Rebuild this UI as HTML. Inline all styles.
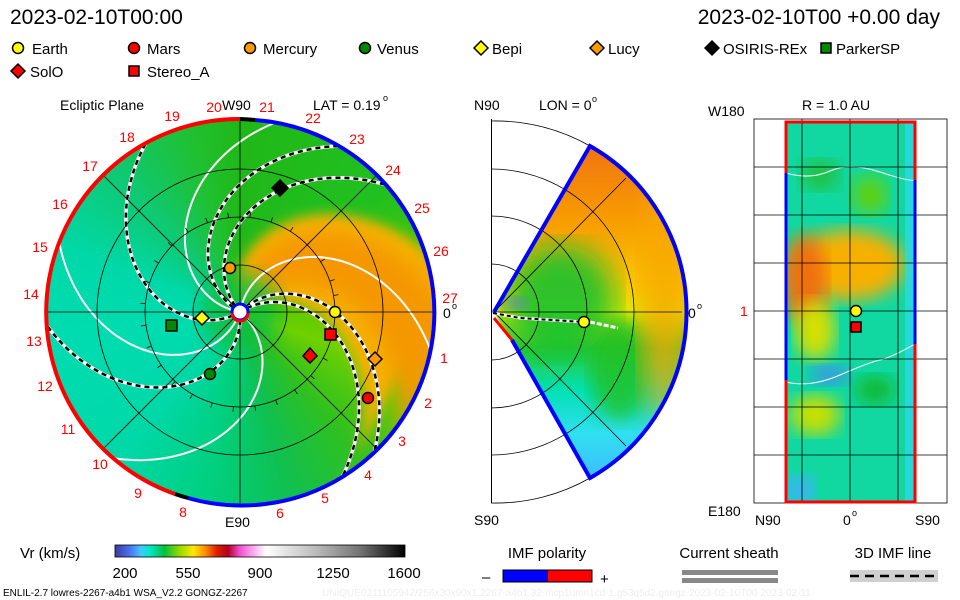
<!DOCTYPE html>
<html><head><meta charset="utf-8"><style>
body{margin:0;background:#fff}
svg{display:block}
text{font-family:"Liberation Sans",sans-serif}
</style></head><body>
<svg id="s" width="960" height="600" viewBox="0 0 960 600" xmlns="http://www.w3.org/2000/svg">
<defs>
<clipPath id="cL"><circle cx="240" cy="312" r="193"/></clipPath>
<clipPath id="cM"><path d="M494,312 L590,146 A191,191 0 0 1 590,478 Z"/></clipPath>
<clipPath id="cR"><rect x="786" y="122" width="129" height="380"/></clipPath>
<filter id="bl"><feGaussianBlur stdDeviation="14"/></filter>
<filter id="bl2"><feGaussianBlur stdDeviation="9"/></filter>
<filter id="bl3"><feGaussianBlur stdDeviation="6"/></filter>
<linearGradient id="cb" x1="0" x2="1">
<stop offset="0" stop-color="#3a3aa0"/><stop offset=".05" stop-color="#4a70f0"/><stop offset=".09" stop-color="#40c8ff"/><stop offset=".12" stop-color="#00e8c8"/><stop offset=".17" stop-color="#00c040"/><stop offset=".22" stop-color="#90d800"/><stop offset=".27" stop-color="#ffe800"/><stop offset=".31" stop-color="#ff9000"/><stop offset=".35" stop-color="#e02000"/><stop offset=".39" stop-color="#b00020"/><stop offset=".43" stop-color="#f050d0"/><stop offset=".48" stop-color="#ffb0f0"/><stop offset=".52" stop-color="#ffffff"/><stop offset=".7" stop-color="#b8b8b8"/><stop offset=".85" stop-color="#707070"/><stop offset="1" stop-color="#000"/>
</linearGradient>
<linearGradient id="mg" x1="0" y1="0" x2="0" y2="1">
<stop offset="0" stop-color="#f07010"/><stop offset=".25" stop-color="#f8a000"/><stop offset=".42" stop-color="#f8c800"/><stop offset=".5" stop-color="#e0e800"/><stop offset=".6" stop-color="#30c830"/><stop offset=".72" stop-color="#00e0b0"/><stop offset=".85" stop-color="#30e0f0"/><stop offset="1" stop-color="#40b8ff"/>
</linearGradient>
</defs>

<text x="10" y="24" font-size="21">2023-02-10T00:00</text>
<text x="940" y="24" font-size="21" text-anchor="end">2023-02-10T00 +0.00 day</text>
<g font-size="15" stroke="#000" stroke-width="1.5">
<circle cx="18" cy="48" r="5.5" fill="#ff0"/>
<circle cx="134" cy="48" r="5.5" fill="#f00"/>
<circle cx="250" cy="48" r="5.5" fill="#f90"/>
<circle cx="365" cy="48" r="5.5" fill="#080"/>
<path d="M481,41 l7,7 -7,7 -7,-7z" fill="#ff0"/>
<path d="M597,41 l7,7 -7,7 -7,-7z" fill="#f90"/>
<path d="M712,41 l7,7 -7,7 -7,-7z" fill="#000"/>
<rect x="821" y="43" width="10" height="10" fill="#080"/>
<path d="M18,64 l7,7 -7,7 -7,-7z" fill="#f00"/>
<rect x="129" y="66" width="10" height="10" fill="#f00"/>
</g>
<g font-size="15">
<text x="32" y="54">Earth</text><text x="147" y="54">Mars</text><text x="263" y="54">Mercury</text><text x="377" y="54">Venus</text>
<text x="492" y="54">Bepi</text><text x="608" y="54">Lucy</text><text x="723" y="54">OSIRIS-REx</text><text x="836" y="54">ParkerSP</text>
<text x="30" y="77">SolO</text><text x="147" y="77">Stereo_A</text>
</g>

<text x="60" y="110" font-size="14">Ecliptic Plane</text>
<text x="222" y="110" font-size="14">W90</text>
<text x="313" y="110" font-size="14">LAT = 0.19</text><text x="383" y="101" font-size="9">o</text>
<text x="225" y="527" font-size="14">E90</text>
<text x="443" y="318" font-size="14">0</text><text x="452" y="309" font-size="9">o</text>
<g clip-path="url(#cL)">
<foreignObject x="46" y="118" width="388" height="388">
<div xmlns="http://www.w3.org/1999/xhtml" style="width:388px;height:388px;background:conic-gradient(from 0deg,#20b818 0deg,#20c020 50deg,#50c800 80deg,#70d000 110deg,#30c020 140deg,#10c050 165deg,#00d080 190deg,#00d8a8 220deg,#00dcb0 260deg,#00d8a8 290deg,#10c870 320deg,#20c030 345deg,#20b818 360deg)"></div>
</foreignObject>
<path id="orb" fill="#f5b000" filter="url(#bl3)"/>
<path id="orc" fill="#f59800" filter="url(#bl2)"/>
<circle cx="240" cy="312" r="40" fill="#10c040" opacity=".8" filter="url(#bl2)"/>
<g id="spir"></g>
</g>
<g fill="none" stroke="#000" stroke-width="0.8">
<circle cx="240" cy="312" r="47"/><circle cx="240" cy="312" r="95"/><circle cx="240" cy="312" r="143"/>
<line x1="46" y1="312" x2="434" y2="312"/><line x1="240" y1="118" x2="240" y2="506"/>
<line x1="103" y1="175" x2="377" y2="449"/><line x1="103" y1="449" x2="377" y2="175"/>
</g>
<g id="ticks" stroke="#000" stroke-width="0.8"></g>
<path d="M240,119 A193,193 0 0 0 175,494" fill="none" stroke="#f00" stroke-width="4"/>
<path d="M255,120 A193,193 0 1 1 188,498" fill="none" stroke="#00f" stroke-width="4"/>
<path d="M240,119 A193,193 0 0 1 255,120" fill="none" stroke="#000" stroke-width="4"/>
<path d="M175,494 A193,193 0 0 0 188,498" fill="none" stroke="#000" stroke-width="4"/>
<g fill="#f00" font-size="14" text-anchor="middle">
<text x="214" y="112">20</text><text x="267" y="112">21</text><text x="313" y="123">22</text><text x="357" y="144">23</text><text x="393" y="175">24</text><text x="422" y="213">25</text><text x="441" y="256">26</text><text x="450" y="303">27</text><text x="444" y="363">1</text><text x="428" y="408">2</text><text x="402" y="446">3</text><text x="368" y="480">4</text><text x="325" y="503">5</text><text x="280" y="518">6</text><text x="183" y="517">8</text><text x="138" y="498">9</text><text x="100" y="469">10</text><text x="68" y="434">11</text><text x="45" y="391">12</text><text x="34" y="346">13</text><text x="31" y="299">14</text><text x="40" y="252">15</text><text x="60" y="209">16</text><text x="90" y="171">17</text><text x="127" y="142">18</text><text x="172" y="121">19</text>
</g>
<circle cx="240" cy="312" r="8" fill="#fff" stroke="#00f" stroke-width="3"/>
<path d="M232,313 A8,8 0 0 0 248,313" fill="none" stroke="#f00" stroke-width="3"/>
<g stroke="#000" stroke-width="1.5">
<circle cx="230" cy="268" r="5.5" fill="#f90"/>
<circle cx="210" cy="374" r="5.5" fill="#080"/>
<circle cx="368" cy="398" r="5.5" fill="#f00"/>
<circle cx="335" cy="312" r="5.5" fill="#ff0"/>
<path d="M202,311 l7,7 -7,7 -7,-7z" fill="#ff0"/>
<path d="M375,352 l7,7 -7,7 -7,-7z" fill="#f90"/>
<path d="M280,180 l8,8 -8,8 -8,-8z" fill="#000"/>
<path d="M310,348 l7,8 -7,7 -7,-7z" fill="#f00"/>
<rect x="166" y="320" width="11" height="11" fill="#080"/>
<rect x="325" y="329" width="11" height="11" fill="#f00"/>
</g>

<text x="474" y="110" font-size="14">N90</text>
<text x="539" y="110" font-size="14">LON = 0</text><text x="592" y="102" font-size="9">o</text>
<text x="474" y="525" font-size="14">S90</text>
<text x="688" y="318" font-size="14">0</text><text x="697" y="309" font-size="9">o</text>
<g clip-path="url(#cM)">
<rect x="490" y="140" width="200" height="345" fill="url(#mg)"/>
<ellipse cx="560" cy="300" rx="55" ry="55" fill="#10c030" opacity=".85" filter="url(#bl)"/>
<ellipse cx="620" cy="370" rx="30" ry="50" fill="#20c020" opacity=".8" filter="url(#bl2)"/>
<ellipse cx="665" cy="300" rx="25" ry="120" fill="#f8a800" opacity=".8" filter="url(#bl)"/>
<ellipse cx="515" cy="303" rx="12" ry="6" fill="#6070f0" filter="url(#bl2)"/>
</g>
<g fill="none" stroke="#000" stroke-width="0.8">
<rect x="491" y="119" width="1" height="384" fill="#000" stroke="none"/>
<path d="M491,264 A48,48 0 0 1 491,360"/><path d="M491,216 A96,96 0 0 1 491,408"/><path d="M491,169 A143,143 0 0 1 491,455"/>
<path d="M491,121 A191,191 0 0 1 590,146"/><path d="M491,503 A191,191 0 0 0 590,478"/>
<line x1="491" y1="312" x2="682" y2="312"/><line x1="494" y1="312" x2="626" y2="178"/><line x1="494" y1="312" x2="626" y2="446"/>
</g>
<path d="M493,313 L520,318 L584,322" stroke="#fff" stroke-width="3" fill="none"/>
<path d="M493,313 L520,318 L584,322" stroke="#000" stroke-width="2" stroke-dasharray="4,3" fill="none"/>
<path d="M590,322 L618,328" stroke="#fff" stroke-width="3" stroke-dasharray="5,2" fill="none"/>
<path d="M494,312 L590,146 A191,191 0 0 1 590,478 L512,340" fill="none" stroke="#00f" stroke-width="4"/>
<path d="M494,318 L512,340" stroke="#f00" stroke-width="3"/>
<circle cx="584" cy="322" r="5.5" fill="#ff0" stroke="#000" stroke-width="1.5"/>

<text x="802" y="110" font-size="14">R = 1.0 AU</text>
<text x="708" y="116" font-size="14">W180</text>
<text x="708" y="516" font-size="14">E180</text>
<text x="755" y="525" font-size="14">N90</text>
<text x="843" y="525" font-size="14">0</text><text x="852" y="516" font-size="9">o</text>
<text x="915" y="525" font-size="14">S90</text>
<text x="740" y="316" font-size="14" fill="#f00">1</text>
<g clip-path="url(#cR)">
<rect x="786" y="122" width="129" height="380" fill="#10d8a0"/>
<ellipse cx="850" cy="265" rx="55" ry="35" fill="#f8b000" filter="url(#bl2)"/>
<ellipse cx="805" cy="280" rx="22" ry="45" fill="#f07010" filter="url(#bl2)"/>
<ellipse cx="815" cy="330" rx="20" ry="30" fill="#d8e000" filter="url(#bl2)"/>
<ellipse cx="870" cy="195" rx="18" ry="20" fill="#60d010" filter="url(#bl2)"/>
<ellipse cx="815" cy="415" rx="25" ry="20" fill="#c8e000" filter="url(#bl2)"/>
<ellipse cx="830" cy="375" rx="20" ry="10" fill="#4090f0" filter="url(#bl2)"/>
<ellipse cx="800" cy="490" rx="15" ry="15" fill="#40b0ff" filter="url(#bl2)"/>
<ellipse cx="820" cy="175" rx="20" ry="15" fill="#20c040" filter="url(#bl2)"/>
<ellipse cx="875" cy="390" rx="20" ry="15" fill="#10b830" filter="url(#bl2)"/>
<rect x="905" y="122" width="10" height="380" fill="#30d8f0" opacity=".7"/>
<path d="M786,173 Q810,180 830,171 T880,172 T915,180" stroke="#fff" fill="none"/>
<path d="M786,382 Q810,388 840,375 T880,360 T915,344" stroke="#fff" fill="none"/>
</g>
<g stroke="#000" stroke-width="0.8" fill="none">
<rect x="754" y="119" width="193" height="384"/>
<line x1="802" y1="119" x2="802" y2="503"/><line x1="850" y1="119" x2="850" y2="503"/><line x1="898" y1="119" x2="898" y2="503"/>
<line x1="754" y1="167" x2="947" y2="167"/><line x1="754" y1="215" x2="947" y2="215"/><line x1="754" y1="263" x2="947" y2="263"/><line x1="754" y1="311" x2="947" y2="311"/><line x1="754" y1="359" x2="947" y2="359"/><line x1="754" y1="407" x2="947" y2="407"/><line x1="754" y1="455" x2="947" y2="455"/>
</g>
<path d="M786,122 H915 V502 H786 Z" fill="none" stroke="#f00" stroke-width="3"/>
<line x1="786" y1="173" x2="786" y2="380" stroke="#00f" stroke-width="3"/>
<line x1="915" y1="180" x2="915" y2="344" stroke="#00f" stroke-width="3"/>
<circle cx="856" cy="311" r="5.5" fill="#ff0" stroke="#000" stroke-width="1.5"/>
<rect x="851" y="322" width="10" height="10" fill="#f00" stroke="#000" stroke-width="1.5"/>

<text x="20" y="558" font-size="15">Vr (km/s)</text>
<rect x="115" y="545" width="290" height="12" fill="url(#cb)" stroke="#000" stroke-width="0.8"/>
<g font-size="15" text-anchor="middle">
<text x="125" y="578">200</text><text x="188" y="578">550</text><text x="260" y="578">900</text><text x="333" y="578">1250</text><text x="404" y="578">1600</text>
</g>
<text x="547" y="558" font-size="15" text-anchor="middle">IMF polarity</text>
<rect x="503" y="570" width="45" height="12" fill="#00f"/><rect x="548" y="570" width="44" height="12" fill="#f00"/>
<rect x="503" y="570" width="89" height="12" fill="none" stroke="#000"/>
<text x="482" y="582" font-size="15">–</text><text x="600" y="584" font-size="15">+</text>
<text x="729" y="558" font-size="15" text-anchor="middle">Current sheath</text>
<rect x="682" y="570" width="96" height="5" fill="#888"/><rect x="682" y="578" width="96" height="5" fill="#888"/>
<text x="893" y="558" font-size="15" text-anchor="middle">3D IMF line</text>
<rect x="850" y="570" width="88" height="12" fill="#d0d0d0"/>
<line x1="850" y1="576" x2="938" y2="576" stroke="#000" stroke-width="2.5" stroke-dasharray="9,6"/>
<text x="3" y="596" font-size="10">ENLIL-2.7 lowres-2267-a4b1 WSA_V2.2 GONGZ-2267</text>
<text x="322" y="596" font-size="10" fill="#eee">UNIQUE0211105942/256x30x90x1.2267-a4b1.32-mcp1umn1cd-1.g53q5d2.gongz-2023-02-10T00   2023-02-11</text>
</svg>
<script>
var ns="http://www.w3.org/2000/svg",g=document.getElementById("spir"),K=0.47;
function pt(p0,r){var a=(p0+K*r)*Math.PI/180;return (240+r*Math.cos(a)).toFixed(1)+","+(312+r*Math.sin(a)).toFixed(1);}
function sp(p0){var d="";for(var r=8;r<=200;r+=3){d+=(r==8?"M":"L")+pt(p0,r);}return d;}
function band(a,b,r0){var d="M"+pt(a,r0);for(var r=r0;r<=215;r+=3)d+="L"+pt(a,r);for(var r=215;r>=r0;r-=3)d+="L"+pt(b,r);return d+"Z";}
document.getElementById("orb").setAttribute("d",band(-110,-36,15));
document.getElementById("orc").setAttribute("d",band(-98,-56,40));
function add(d,st,w,da){var p=document.createElementNS(ns,"path");p.setAttribute("d",d);p.setAttribute("fill","none");p.setAttribute("stroke",st);p.setAttribute("stroke-width",w);if(da)p.setAttribute("stroke-dasharray",da);g.appendChild(p);}
[-132,-45,-33,85,150,210].forEach(function(p){var d=sp(p);add(d,"#fff",3.5);add(d,"#000",2.5,"5,4");});
[-170,-80,40,110].forEach(function(p){add(sp(p),"#fff",2);});
var t=document.getElementById("ticks");
for(var i=0;i<28;i++){var a=(i*13-10)*Math.PI/180,r=95;var l=document.createElementNS(ns,"line");l.setAttribute("x1",240+r*Math.cos(a));l.setAttribute("y1",312+r*Math.sin(a));l.setAttribute("x2",240+(r+5)*Math.cos(a));l.setAttribute("y2",312+(r+5)*Math.sin(a));t.appendChild(l);}
</script>
</body></html>
